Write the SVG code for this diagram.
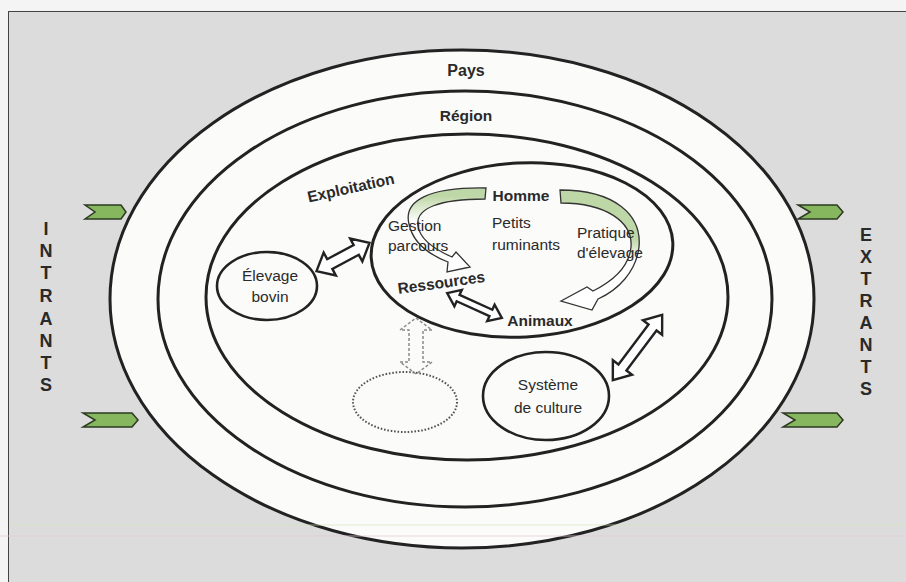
<svg xmlns="http://www.w3.org/2000/svg" width="906" height="582" viewBox="0 0 906 582">
<defs>
<style>
.ring{fill:#fbfbfa;stroke:#222;stroke-width:3}
.node{fill:#fbfbfa;stroke:#222;stroke-width:2.6}
.t{font-family:"Liberation Sans",Arial,sans-serif;fill:#2a2a2a}
.b{font-weight:bold}
.n{font-size:15.5px}
.side{font-family:"Liberation Sans",Arial,sans-serif;font-weight:bold;font-size:18px;fill:#2a2a2a;text-anchor:middle}
.dbl{fill:#fff;stroke:#222;stroke-width:2.4;stroke-linejoin:miter}
.chev{fill:#86b65e;stroke:#2d3a22;stroke-width:1.5;stroke-linejoin:miter}
.curve{stroke:#333;stroke-width:1.3;stroke-linejoin:miter}
</style>
<linearGradient id="gL" gradientUnits="userSpaceOnUse" x1="0" y1="196" x2="0" y2="222">
<stop offset="0" stop-color="#b9d49f"/><stop offset="1" stop-color="#ffffff"/>
</linearGradient>
<linearGradient id="gR" gradientUnits="userSpaceOnUse" x1="0" y1="238" x2="0" y2="262">
<stop offset="0" stop-color="#b9d49f"/><stop offset="1" stop-color="#ffffff"/>
</linearGradient>
</defs>
<rect x="0" y="0" width="906" height="582" fill="#f4f4f4"/>
<rect x="8.5" y="11.5" width="900" height="575" fill="#dcdcdc" stroke="#444" stroke-width="1"/>

<g id="pays"><ellipse class="ring" cx="462" cy="299" rx="352" ry="249"/><text class="t b" x="466" y="76" font-size="16" text-anchor="middle">Pays</text></g>
<g id="region"><ellipse class="ring" cx="465" cy="299" rx="307" ry="208"/><text class="t b" x="466" y="121" font-size="15.5" text-anchor="middle">Région</text></g>
<g id="exploitation"><ellipse class="ring" cx="467" cy="297" rx="261" ry="163"/><text class="t b" font-size="15.5" text-anchor="middle" transform="translate(352,193) rotate(-12.5)">Exploitation</text></g>

<g id="petits-ruminants">
<ellipse class="ring" cx="522" cy="250" rx="151" ry="87" transform="rotate(-3 522 250)"/>
<text class="t n" x="492" y="228">Petits</text>
<text class="t n" x="492" y="250">ruminants</text>
</g>
<g id="homme"><text class="t b n" x="521" y="201" text-anchor="middle">Homme</text></g>
<g id="ressources"><text class="t b n" text-anchor="middle" transform="translate(442,288) rotate(-8)">Ressources</text></g>
<g id="animaux"><text class="t b n" x="540" y="326" text-anchor="middle">Animaux</text></g>

<g id="elevage-bovin"><ellipse class="node" cx="267" cy="286" rx="50" ry="34"/><text class="t n" x="270" y="281" text-anchor="middle">Élevage</text><text class="t n" x="270" y="302" text-anchor="middle">bovin</text></g>
<g id="systeme-culture"><ellipse class="node" cx="546" cy="396" rx="63" ry="44"/><text class="t n" x="548" y="390" text-anchor="middle">Système</text><text class="t n" x="548" y="413" text-anchor="middle">de culture</text></g>
<g id="potentiel"><ellipse cx="405" cy="402" rx="52" ry="30" fill="none" stroke="#555" stroke-width="2" stroke-dasharray="1.6 1.8"/></g>

<g id="connectors">
<path class="curve" fill="url(#gL)" fill-opacity="0.92" d="M486 188 C430 187 403 200 409 224 C413 243 430 255 448 262 L447 272 L470 267 L456 252 L452 257 C436 250 420 240 418 226 C415 208 440 199 485 199 Z"/>
<path class="curve" fill="url(#gR)" fill-opacity="0.92" d="M560 190 C615 190 642 215 639 247 C636 272 618 290 598 299 L592 310 L561 301 L587 287 L593 291 C611 282 629 268 631 247 C633 222 606 203 561 203 Z"/>
<path class="dbl" transform="translate(343,257) rotate(-28)" d="M-30 0 L-15 -13 L-15 -5.5 L15 -5.5 L15 -13 L30 0 L15 13 L15 5.5 L-15 5.5 L-15 13 Z"/>
<path class="dbl" transform="translate(474.5,305.5) rotate(24.4)" d="M-30 0 L-18 -9 L-18 -3.5 L18 -3.5 L18 -9 L30 0 L18 9 L18 3.5 L-18 3.5 L-18 9 Z"/>
<path class="dbl" stroke-width="2.8" transform="translate(637.5,347.5) rotate(-53)" d="M-41 0 L-25 -12 L-25 -5 L25 -5 L25 -12 L41 0 L25 12 L25 5 L-25 5 L-25 12 Z"/>
<path fill="none" stroke="#8a8a8a" stroke-width="1.5" stroke-dasharray="3 2" transform="translate(416,346) rotate(90)" d="M-28 0 L-16 -16 L-16 -7 L16 -7 L16 -16 L28 0 L16 16 L16 7 L-16 7 L-16 16 Z"/>
</g>
<g id="gestion-parcours"><text class="t n" x="388" y="231">Gestion</text><text class="t n" x="388" y="251">parcours</text></g>
<g id="pratique-elevage"><text class="t n" x="577" y="238">Pratique</text><text class="t n" x="577" y="258">d'élevage</text></g>

<g id="intrants">
<path class="chev" d="M85 205 L121 205 L126 212 L121 219 L85 219 L95 212 Z"/>
<path class="chev" d="M83 413 L132 413 L138 420 L132 427 L83 427 L95 420 Z"/>
<text class="side" x="46" y="235">I</text><text class="side" x="46" y="257">N</text><text class="side" x="46" y="279">T</text><text class="side" x="46" y="302">R</text><text class="side" x="46" y="325">A</text><text class="side" x="46" y="347">N</text><text class="side" x="46" y="369">T</text><text class="side" x="46" y="391">S</text>
</g>
<g id="extrants">
<path class="chev" d="M798 205 L837 205 L843 212 L837 219 L798 219 L810 212 Z"/>
<path class="chev" d="M783 413 L837 413 L843 420 L837 427 L783 427 L795 420 Z"/>
<text class="side" x="866" y="241">E</text><text class="side" x="866" y="263">X</text><text class="side" x="866" y="285">T</text><text class="side" x="866" y="307">R</text><text class="side" x="866" y="329">A</text><text class="side" x="866" y="351">N</text><text class="side" x="866" y="373">T</text><text class="side" x="866" y="395">S</text>
</g>

<line x1="9" y1="525" x2="906" y2="525" stroke="#cfe6b8" stroke-width="1" opacity="0.6"/>
<line x1="0" y1="536" x2="906" y2="536" stroke="#e6c6d6" stroke-width="1" opacity="0.7"/>
</svg>
